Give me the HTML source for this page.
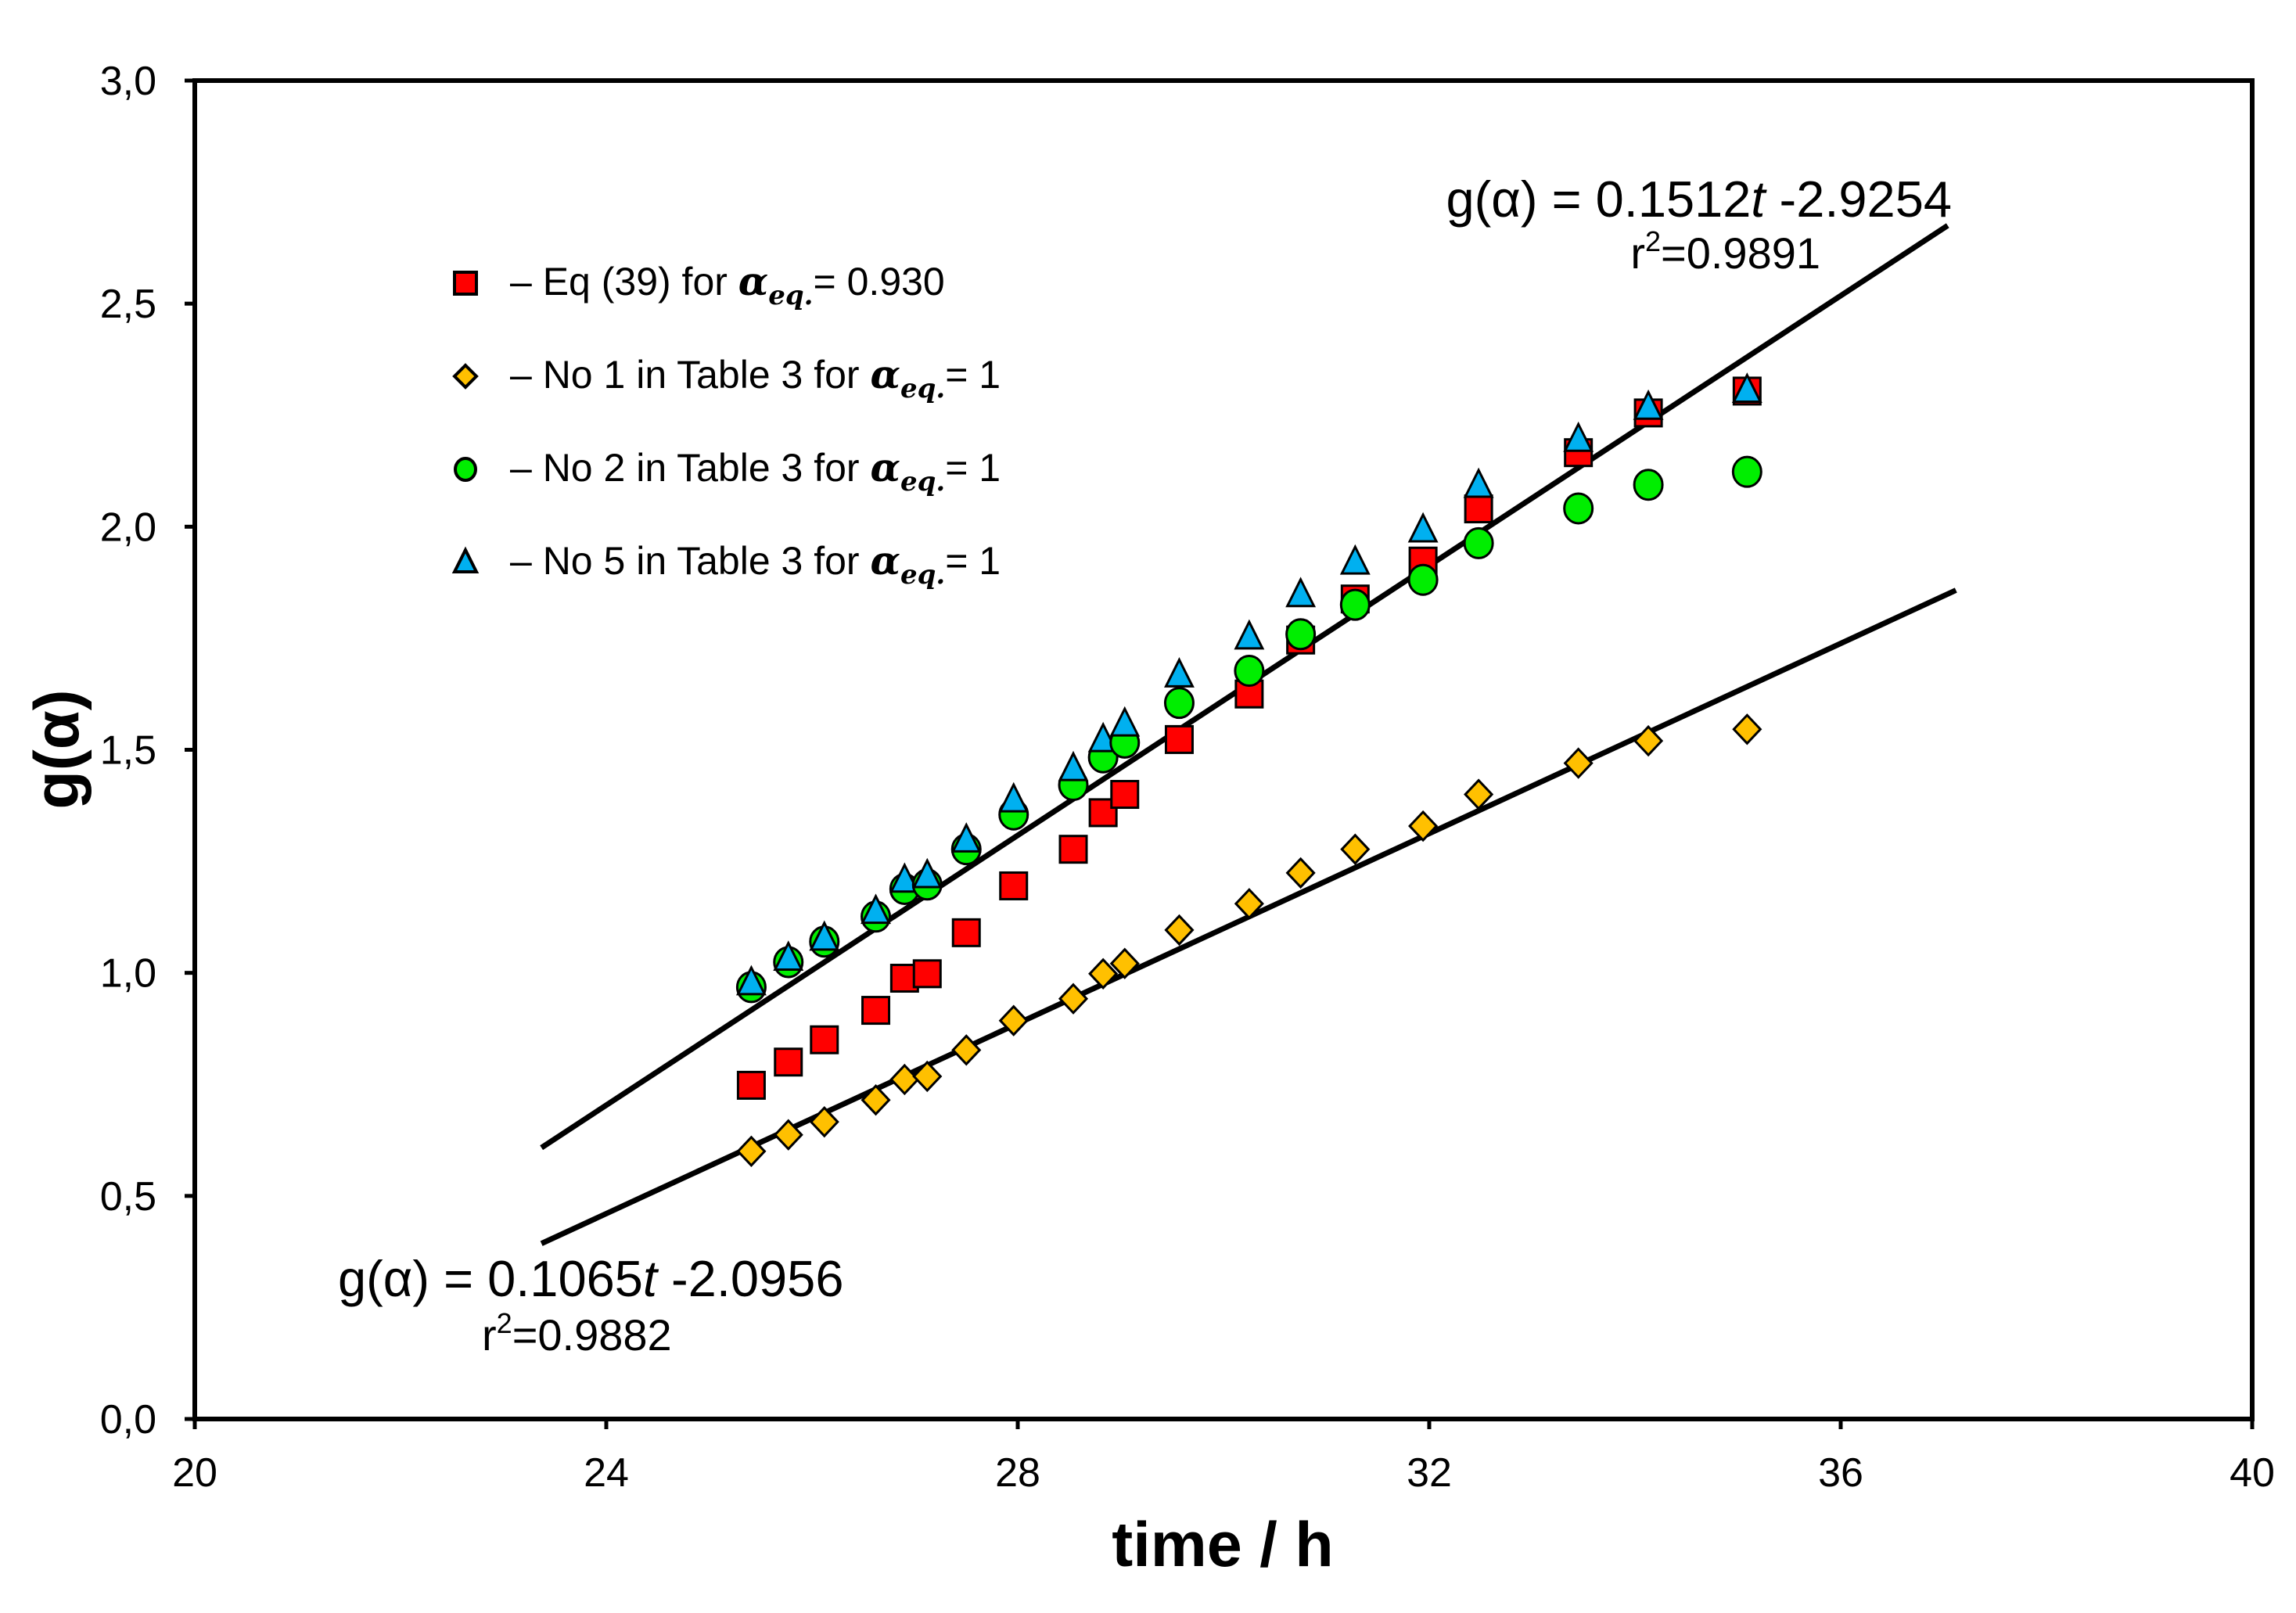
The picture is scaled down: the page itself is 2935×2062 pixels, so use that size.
<!DOCTYPE html>
<html><head><meta charset="utf-8"><style>
html,body{margin:0;padding:0;background:#fff;}
svg{display:block;font-family:"Liberation Sans",Arial,sans-serif;}
</style></head><body>
<svg id="chart" width="2935" height="2062" viewBox="0 0 2935 2062" xmlns="http://www.w3.org/2000/svg">
<rect x="0" y="0" width="2935" height="2062" fill="#fff"/>
<g id="marks"></g>
<rect x="249" y="103" width="2630" height="1711" fill="none" stroke="#000" stroke-width="6"/>
<g font-size="50">
  <g>
    <rect x="581" y="348" width="28" height="28" fill="#ff0000" stroke="#000" stroke-width="4"/>
    <text x="652" y="377">– Eq (39) for <tspan font-family="'DejaVu Serif',serif" font-style="italic" font-weight="bold">α</tspan><tspan font-family="'DejaVu Serif',serif" font-style="italic" font-weight="bold" font-size="34" dy="12">eq.</tspan><tspan dy="-12">= 0.930</tspan></text>
  </g>
  <g>
    <polygon points="595,467 609,481 595,495 581,481" fill="#ffc000" stroke="#000" stroke-width="4"/>
    <text x="652" y="496">– No 1 in Table 3 for <tspan font-family="'DejaVu Serif',serif" font-style="italic" font-weight="bold">α</tspan><tspan font-family="'DejaVu Serif',serif" font-style="italic" font-weight="bold" font-size="34" dy="12">eq.</tspan><tspan dy="-12">= 1</tspan></text>
  </g>
  <g>
    <ellipse cx="595" cy="600" rx="13" ry="14" fill="#00ee00" stroke="#000" stroke-width="4"/>
    <text x="652" y="615">– No 2 in Table 3 for <tspan font-family="'DejaVu Serif',serif" font-style="italic" font-weight="bold">α</tspan><tspan font-family="'DejaVu Serif',serif" font-style="italic" font-weight="bold" font-size="34" dy="12">eq.</tspan><tspan dy="-12">= 1</tspan></text>
  </g>
  <g>
    <polygon points="595,703 609,731 581,731" fill="#00b0f0" stroke="#000" stroke-width="4"/>
    <text x="652" y="734">– No 5 in Table 3 for <tspan font-family="'DejaVu Serif',serif" font-style="italic" font-weight="bold">α</tspan><tspan font-family="'DejaVu Serif',serif" font-style="italic" font-weight="bold" font-size="34" dy="12">eq.</tspan><tspan dy="-12">= 1</tspan></text>
  </g>
</g>
<g font-size="65">
  <text x="2495" y="277" text-anchor="end">g(α) = 0.1512<tspan font-style="italic">t</tspan> -2.9254</text>
  <text x="2327" y="343" text-anchor="end" font-size="56">r<tspan font-size="36" dy="-22">2</tspan><tspan dy="22">=0.9891</tspan></text>
</g>
<g font-size="65">
  <text x="432" y="1657">g(α) = 0.1065<tspan font-style="italic">t</tspan> -2.0956</text>
  <text x="616" y="1726" font-size="56">r<tspan font-size="36" dy="-22">2</tspan><tspan dy="22">=0.9882</tspan></text>
</g>
<text x="1563" y="2002" text-anchor="middle" font-size="81" font-weight="bold">time / h</text>
<text transform="translate(100,958) rotate(-90)" text-anchor="middle" font-size="81" font-weight="bold">g(α)</text>
<g id="axes"></g>
</svg>
<script>
const xTicks = [20, 24, 28, 32, 36, 40];
const yTicks = [0, 0.5, 1.0, 1.5, 2.0, 2.5, 3.0];
const yTickLabels = ["0,0","0,5","1,0","1,5","2,0","2,5","3,0"];
const times = [25.41,25.77,26.12,26.62,26.90,27.12,27.50,27.96,28.54,28.83,29.04,29.57,30.25,30.75,31.28,31.94,32.48,33.45,34.13,35.09];
const eq39 = [0.748,0.80,0.85,0.916,0.988,0.998,1.09,1.195,1.277,1.359,1.40,1.523,1.625,1.746,1.838,1.923,2.04,2.166,2.255,2.304];
const no1 = [0.60,0.637,0.666,0.715,0.761,0.768,0.827,0.893,0.942,0.998,1.021,1.096,1.155,1.224,1.277,1.329,1.40,1.47,1.52,1.546];
const no2 = [0.968,1.024,1.07,1.126,1.188,1.198,1.277,1.355,1.421,1.483,1.516,1.605,1.677,1.759,1.825,1.881,1.963,2.041,2.094,2.123];
const no5 = [0.975,1.03,1.075,1.135,1.205,1.215,1.295,1.385,1.455,1.52,1.555,1.665,1.75,1.845,1.918,1.99,2.09,2.193,2.265,2.303];
const upperFit = {slope:0.1512, intercept:-2.9254, t0:23.37, t1:37.04};
const lowerFit = {slope:0.1065, intercept:-2.0956, t0:23.37, t1:37.12};

const NS="http://www.w3.org/2000/svg";
const X0=249,X1=2879,Y0=1814,Y1=103;
const xs=t=>X0+(t-20)/20*(X1-X0);
const ys=v=>Y0-(v/3)*(Y0-Y1);
function mk(tag,attrs,parent){const e=document.createElementNS(NS,tag);for(const k in attrs)e.setAttribute(k,attrs[k]);parent.appendChild(e);return e;}
const axes=document.getElementById('axes');
const marks=document.getElementById('marks');
xTicks.forEach(t=>{
  const l=mk('line',{x1:xs(t),x2:xs(t),y1:Y0,y2:Y0+13,stroke:'#000','stroke-width':5},axes);
  
  
  const tx=mk('text',{x:xs(t),y:1900,'text-anchor':'middle','font-size':52},axes);
  tx.textContent=t;
  
  
});
yTicks.forEach((v,i)=>{
  const l=mk('line',{x1:X0-13,x2:X0,y1:ys(v),y2:ys(v),stroke:'#000','stroke-width':5},axes);
  
  
  const tx=mk('text',{x:200,y:ys(v)+18,'text-anchor':'end','font-size':52},axes);
  tx.textContent=yTickLabels[i];
  
  
});
[upperFit,lowerFit].forEach((f,i)=>{
  const l=mk('line',{x1:xs(f.t0),y1:ys(f.slope*f.t0+f.intercept),x2:xs(f.t1),y2:ys(f.slope*f.t1+f.intercept),stroke:'#000','stroke-width':7},marks);
  
  
});
times.forEach((t,i)=>{
  const x=xs(t);
  let y=ys(no1[i]);
  const d=mk('polygon',{points:`${x},${y-18} ${x+17},${y} ${x},${y+18} ${x-17},${y}`,fill:'#ffc000',stroke:'#000','stroke-width':3},marks);
  
  
  y=ys(eq39[i]);
  const s=mk('rect',{x:x-17,y:y-17,width:34,height:34,fill:'#ff0000',stroke:'#000','stroke-width':3},marks);
  
  
  y=ys(no2[i]);
  const c=mk('ellipse',{cx:x,cy:y,rx:18,ry:19,fill:'#00ee00',stroke:'#000','stroke-width':3},marks);
  
  
  y=ys(no5[i]);
  const tr=mk('polygon',{points:`${x},${y-21} ${x+17},${y+13} ${x-17},${y+13}`,fill:'#00b0f0',stroke:'#000','stroke-width':3},marks);
  
  
});
</script>
</body></html>
